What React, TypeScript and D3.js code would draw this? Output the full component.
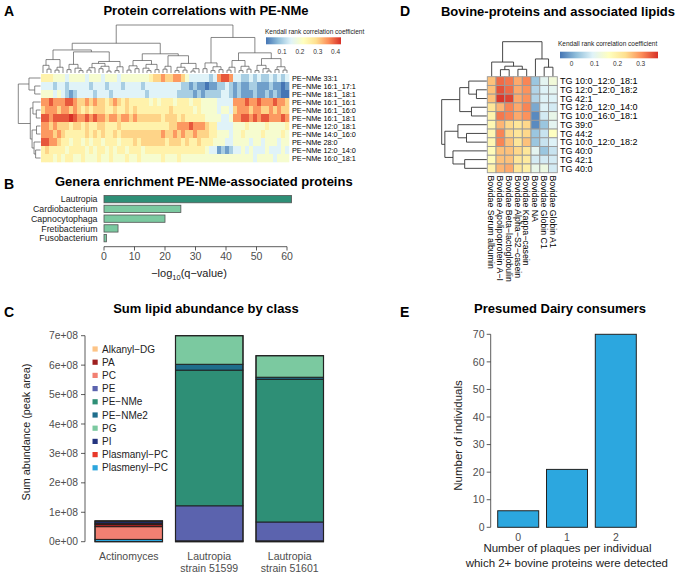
import React from 'react';
import * as d3 from 'd3';

const FONT = '"Liberation Sans", Arial, Helvetica, sans-serif';
const PAL = ['#4575B4', '#91BFDB', '#E0F3F8', '#FFFFBF', '#FEE090', '#FC8D59', '#D73027'];

// ---------- Panel A ----------
const aRowLabels = [
  'PE−NMe 33:1', 'PE−NMe 16:1_17:1', 'PE−NMe 18:1_18:1', 'PE−NMe 16:1_16:1', 'PE−NMe 16:1_16:0',
  'PE−NMe 16:1_18:1', 'PE−NMe 12:0_18:1', 'PE−NMe 14:0_16:0', 'PE−NMe 28:0', 'PE−NMe 12:0_14:0', 'PE−NMe 16:0_18:1',
];
// each char = correlation level (digit * 0.05), one char per protein column
const aRows = [
  '55544' + '4344' + '4434443444344' + '444445' + '66766776' + '4333' + '3323' + '7887' + '33223232232323',
  '33323' + '3233' + '3332333233323' + '333233' + '33333332' + '2121' + '1011' + '2232' + '12112211121101',
  '44434' + '3212' + '3333233323333' + '333323' + '33333322' + '2212' + '1222' + '2332' + '12111211212100',
  '77877' + '7887' + '6676766567656' + '555554' + '54555455' + '5455' + '4444' + '3333' + '77787787778776',
  '67776' + '7767' + '6565666556556' + '565555' + '55556555' + '5545' + '4444' + '3443' + '67776776676766',
  '88788' + '8898' + '7787877677677' + '676666' + '66566656' + '5555' + '5444' + '4334' + '77887878877787',
  '77676' + '6656' + '6565566555655' + '555555' + '55556677' + '7877' + '7655' + '3333' + '44454444544445',
  '77767' + '6555' + '5565656556566' + '666666' + '66766767' + '6676' + '6655' + '4443' + '44544445444454',
  '88776' + '5545' + '5454554555455' + '565666' + '66656665' + '6556' + '5554' + '4433' + '44443443444344',
  '56555' + '5455' + '5545455454554' + '555455' + '55555555' + '5555' + '5433' + '1212' + '33434333433343',
  '55545' + '4554' + '4544454454445' + '445444' + '44544454' + '4444' + '4444' + '4444' + '44444344443444',
];
const aLevelStep = 0.05;
const aColTree =
  '(((((x,(x,x)0.8)1.6,((x,x)0.6,x)1.2)2.8,(((x,x)0.7,(x,(x,x)0.5)1.0)1.8,((((x,x)0.6,x)1.1,((x,x)0.9,(x,x)0.4)1.4)2.0,((x,x)0.5,x)1.3)2.4)4.4)4.8,' +
  '((((x,x)0.6,(x,x)0.9)1.5,((x,(x,x)0.5)1.0,(x,x)0.7)1.8)2.6,(((x,x)0.8,x)1.4,(((x,x)0.5,(x,x)0.6)1.2,((x,x)0.4,x)0.9)2.0)3.6)4.0)6.2,' +
  '(((x,x)0.9,((x,x)0.5,(x,x)0.7)1.3)2.1,((((x,x)0.6,x)1.2,((x,x)0.5,(x,x)0.8)1.4)2.6,(((x,x)0.5,(x,(x,x)0.4)0.9)1.6,((x,x)0.7,(x,x)0.6)1.3)3.0)4.2)7.4)10';
const aRowTree = '((x,(x,x)2.6)5.2,((x,(x,x)1.9)3.4,((x,x)1.8,(x,(x,x)2.2)2.9)3.8)4.6)10';
const aLegendDomain = [0.01, 0.43];
const aLegendTicks = [0.1, 0.2, 0.3, 0.4];

// ---------- Panel B ----------
const bGenera = ['Lautropia', 'Cardiobacterium', 'Capnocytophaga', 'Fretibacterium', 'Fusobacterium'];
const bValues = [61.5, 25.2, 20.0, 4.6, 0.8];
const bTicks = [0, 10, 20, 30, 40, 50, 60];

// ---------- Panel C ----------
const cClasses = ['Alkanyl−DG', 'PA', 'PC', 'PE', 'PE−NMe', 'PE−NMe2', 'PG', 'PI', 'Plasmanyl−PC', 'Plasmenyl−PC'];
const cColors = ['#FDC486', '#9E1F1F', '#F28072', '#5B63AE', '#2E8F76', '#1F6E8C', '#7BC9A0', '#24347F', '#E8392A', '#2BA5DD'];
const cStackOrder = ['Plasmenyl−PC', 'PC', 'PA', 'Plasmanyl−PC', 'PI', 'Alkanyl−DG', 'PE', 'PE−NMe', 'PE−NMe2', 'PG'];
const cSamples = ['Actinomyces', 'Lautropia strain 51599', 'Lautropia strain 51601'];
const cSampleLines = [['Actinomyces'], ['Lautropia', 'strain 51599'], ['Lautropia', 'strain 51601']];
// values in units of 1e8 peak area, per class (cClasses order) per sample
const cActinomyces = [0.005, 0.08, 0.43, 0, 0, 0, 0, 0.07, 0.04, 0.08];
const cLaut51599 = [0, 0.03, 0, 1.19, 4.61, 0.2, 0.97, 0, 0, 0];
const cLaut51601 = [0, 0.03, 0, 0.64, 4.85, 0.07, 0.73, 0, 0, 0];
const cTicks = [0, 1, 2, 3, 4, 5, 6, 7];

// ---------- Panel D ----------
const dRowLabels = [
  'TG 10:0_12:0_18:1', 'TG 12:0_12:0_18:2', 'TG 42:1', 'TG 12:0_12:0_14:0', 'TG 10:0_16:0_18:1', 'TG 39:0',
  'TG 44:2', 'TG 10:0_12:0_18:2', 'TG 40:0', 'TG 42:1', 'TG 40:0',
];
const dColLabels = [
  'Bovidae Serum albumin', 'Bovidae Apolipoprotein A−I', 'Bovidae Beta−lactoglobulin', 'Bovidae Alpha−S2−casein',
  'Bovidae Kappa−casein', 'Bovidae NA', 'Bovidae Globin C1', 'Bovidae Globin A1',
];
const dValues = [
  [0.26, 0.33, 0.32, 0.28, 0.31, 0.03, 0.10, 0.13],
  [0.26, 0.35, 0.33, 0.28, 0.30, 0.05, 0.09, 0.10],
  [0.26, 0.37, 0.36, 0.28, 0.30, 0.05, 0.09, 0.09],
  [0.22, 0.27, 0.31, 0.28, 0.31, 0.00, 0.09, 0.08],
  [0.19, 0.32, 0.31, 0.28, 0.30, -0.03, 0.08, 0.11],
  [0.18, 0.27, 0.24, 0.22, 0.24, -0.03, 0.03, 0.10],
  [0.18, 0.31, 0.24, 0.22, 0.24, 0.03, 0.07, 0.16],
  [0.18, 0.31, 0.26, 0.22, 0.26, 0.03, 0.07, 0.09],
  [0.17, 0.26, 0.26, 0.24, 0.22, 0.10, 0.03, 0.07],
  [0.17, 0.26, 0.26, 0.22, 0.21, 0.08, 0.08, 0.08],
  [0.19, 0.27, 0.28, 0.22, 0.20, 0.11, 0.12, 0.08],
];
const dColTree = '((x,((x,x)1.9,(x,x)2.0)2.9)4.1,(x,(x,x)2.6)5.0)10';
const dRowTree = '(((x,(x,x)2.3)4.0,(x,x)3.4)6.0,((x,(x,x)4.5)6.4,(x,(x,x)4.9)7.5)9.3)10';
const dLegendDomain = [-0.05, 0.375];
const dLegendTicks = [0, 0.1, 0.2, 0.3];

// ---------- Panel E ----------
const eCats = ['0', '1', '2'];
const eCounts = [6, 21, 70];
const eTicks = [0, 10, 20, 30, 40, 50, 60, 70];

// ---------- helpers ----------
type TNode = { h: number; children?: TNode[]; idx?: number; pos?: number };
function parseTree(src: string): TNode {
  const s = src.replace(/\s+/g, '');
  let i = 0;
  let leaf = 0;
  const num = () => {
    const j = i;
    while (i < s.length && /[0-9.]/.test(s[i])) i++;
    return parseFloat(s.slice(j, i));
  };
  const node = (): TNode => {
    if (s[i] === '(') {
      i++;
      const kids: TNode[] = [node()];
      while (s[i] === ',') {
        i++;
        kids.push(node());
      }
      i++;
      return { h: num(), children: kids };
    }
    i++;
    return { h: 0, idx: leaf++ };
  };
  return node();
}
function layoutTree(n: TNode, leafPos: (i: number) => number): number {
  if (!n.children) {
    n.pos = leafPos(n.idx as number);
    return n.pos;
  }
  const ps = n.children.map((c) => layoutTree(c, leafPos));
  n.pos = (ps[0] + ps[ps.length - 1]) / 2;
  return n.pos;
}
function treePaths(n: TNode, hs: (h: number) => number, vertical: boolean, out: string[] = []): string[] {
  if (!n.children) return out;
  const [a, b] = [n.children[0], n.children[n.children.length - 1]];
  const pa = a.pos as number, pb = b.pos as number;
  if (vertical) {
    out.push(`M${pa},${hs(a.h)}V${hs(n.h)}H${pb}V${hs(b.h)}`);
  } else {
    out.push(`M${hs(a.h)},${pa}H${hs(n.h)}V${pb}H${hs(b.h)}`);
  }
  n.children.forEach((c) => treePaths(c, hs, vertical, out));
  return out;
}
function heatScale(domain: number[]) {
  const stops = PAL.map((_, i) => domain[0] + (i * (domain[1] - domain[0])) / (PAL.length - 1));
  return d3.scaleLinear<string>().domain(stops).range(PAL).interpolate(d3.interpolateRgb).clamp(true);
}

export default function App() {
  // ---- A geometry
  const aX = d3.scaleBand<number>().domain(d3.range(aRows[0].length)).range([41, 289]);
  const aY = d3.scaleBand<number>().domain(d3.range(aRows.length)).range([74, 162]);
  const aColor = heatScale(aLegendDomain);
  const aCT = parseTree(aColTree);
  layoutTree(aCT, (i) => (aX(i) as number) + aX.bandwidth() / 2);
  const aCH = d3.scaleLinear().domain([0, 10]).range([73, 25]);
  const aColPaths = treePaths(aCT, aCH, true);
  const aRT = parseTree(aRowTree);
  layoutTree(aRT, (i) => (aY(i) as number) + aY.bandwidth() / 2);
  const aRH = d3.scaleLinear().domain([0, 10]).range([40.5, 18.3]);
  const aRowPaths = treePaths(aRT, aRH, false);
  const aLeg = d3.scaleLinear().domain(aLegendDomain).range([266, 341]);

  // ---- B
  const bX = d3.scaleLinear().domain([0, 60]).range([104, 287]);
  const bY = d3.scaleBand<string>().domain(bGenera).range([194.3, 243]).paddingInner(0.25).paddingOuter(0.12);

  // ---- C
  const cY = d3.scaleLinear().domain([0, 7]).range([541.7, 335.7]);
  const cX = d3.scaleBand<string>().domain(cSamples).range([82, 336.5]).padding(0.1615);
  const cTable = [cActinomyces, cLaut51599, cLaut51601].map((vals, si) => {
    const row: Record<string, any> = { sample: cSamples[si] };
    cClasses.forEach((k, ci) => (row[k] = vals[ci]));
    return row;
  });
  const cStack = d3.stack<any>().keys(cStackOrder)(cTable);
  const cColorOf = (k: string) => cColors[cClasses.indexOf(k)];

  // ---- D
  const dX = d3.scaleBand<number>().domain(d3.range(dColLabels.length)).range([487.3, 557.3]);
  const dY = d3.scaleBand<number>().domain(d3.range(dRowLabels.length)).range([76.7, 172.7]);
  const dColor = heatScale(dLegendDomain);
  const dCT = parseTree(dColTree);
  layoutTree(dCT, (i) => (dX(i) as number) + dX.bandwidth() / 2);
  const dCH = d3.scaleLinear().domain([0, 10]).range([76.2, 41.7]);
  const dColPaths = treePaths(dCT, dCH, true);
  const dRT = parseTree(dRowTree);
  layoutTree(dRT, (i) => (dY(i) as number) + dY.bandwidth() / 2);
  const dRH = d3.scaleLinear().domain([0, 10]).range([486.8, 441.7]);
  const dRowPaths = treePaths(dRT, dRH, false);
  const dLeg = d3.scaleLinear().domain(dLegendDomain).range([560, 658]);

  // ---- E
  const eY = d3.scaleLinear().domain([0, 70]).range([527.3, 334.3]);
  const eX = d3.scaleBand<string>().domain(eCats).range([489.9, 644.1]).padding(0.16);

  const axisGray = '#333';
  const tickText = '#4D4D4D';

  return (
    <svg width={681} height={575} style={{ position: 'absolute', left: 0, top: 0, background: '#fff' }} fontFamily={FONT}>
      <defs>
        <linearGradient id="gradA" x1="0" x2="1" y1="0" y2="0">
          {PAL.map((c, i) => (
            <stop key={i} offset={i / (PAL.length - 1)} stopColor={c} />
          ))}
        </linearGradient>
      </defs>
      <rect x={0} y={0} width={681} height={575} fill="#fff" />

      {/* Panel letters */}
      {[['A', 4, 15.5], ['B', 4, 189], ['C', 4, 316.5], ['D', 400, 15.5], ['E', 400, 316.5]].map(([t, x, y]) => (
        <text key={t as string} x={x as number} y={y as number} fontSize={14} fontWeight="bold">
          {t}
        </text>
      ))}

      {/* ===== Panel A ===== */}
      <text x={206} y={15} fontSize={13} fontWeight="bold" textAnchor="middle">
        Protein correlations with PE-NMe
      </text>
      <g>
        {aRows.map((row, r) =>
          row.split('').map((ch, c) => (
            <rect
              key={`a${r}-${c}`}
              x={aX(c) as number}
              y={aY(r) as number}
              width={aX.bandwidth() + 0.3}
              height={aY.bandwidth() + 0.3}
              fill={aColor(+ch * aLevelStep)}
            />
          ))
        )}
      </g>
      <g fill="none" stroke="#555" strokeWidth={0.7}>
        {aColPaths.map((d, i) => (
          <path key={i} d={d} />
        ))}
        {aRowPaths.map((d, i) => (
          <path key={`r${i}`} d={d} />
        ))}
      </g>
      {aRowLabels.map((t, i) => (
        <text key={t} x={292} y={(aY(i) as number) + aY.bandwidth() / 2 + 2.6} fontSize={7.3}>
          {t}
        </text>
      ))}
      <text x={265} y={33.5} fontSize={6.5} fill="#222">
        Kendall rank correlation coefficient
      </text>
      <rect x={aLeg.range()[0]} y={37.3} width={aLeg.range()[1] - aLeg.range()[0]} height={7} fill="url(#gradA)" />
      {aLegendTicks.map((t) => (
        <text key={t} x={aLeg(t)} y={54} fontSize={6.5} textAnchor="middle" fill="#333">
          {t}
        </text>
      ))}

      {/* ===== Panel B ===== */}
      <text x={55} y={186} fontSize={13} fontWeight="bold">
        Genera enrichment PE-NMe-associated proteins
      </text>
      {bGenera.map((g, i) => (
        <g key={g}>
          <rect
            x={bX(0)}
            y={bY(g) as number}
            width={bX(bValues[i]) - bX(0)}
            height={bY.bandwidth()}
            fill={i === 0 ? '#2E8F76' : '#7BC9A0'}
            stroke="#555"
            strokeWidth={0.8}
          />
          <text x={97.5} y={(bY(g) as number) + bY.bandwidth() / 2 + 3.2} fontSize={8.8} textAnchor="end" fill="#222">
            {g}
          </text>
        </g>
      ))}
      <line x1={bX(0)} x2={bX(60)} y1={246.7} y2={246.7} stroke={axisGray} strokeWidth={0.8} />
      {bTicks.map((t) => (
        <g key={t}>
          <line x1={bX(t)} x2={bX(t)} y1={246.7} y2={250.5} stroke={axisGray} strokeWidth={0.8} />
          <text x={bX(t)} y={259.8} fontSize={10.5} textAnchor="middle" fill={tickText}>
            {t}
          </text>
        </g>
      ))}
      <text x={189} y={277} fontSize={11} textAnchor="middle" fill="#222">
        −log
        <tspan fontSize={7.5} dy={2.5}>
          10
        </tspan>
        <tspan dy={-2.5}>(q−value)</tspan>
      </text>

      {/* ===== Panel C ===== */}
      <text x={206} y={313} fontSize={13} fontWeight="bold" textAnchor="middle">
        Sum lipid abundance by class
      </text>
      <line x1={85} x2={85} y1={cY(0)} y2={cY(7)} stroke={axisGray} strokeWidth={0.8} />
      {cTicks.map((t) => (
        <g key={t}>
          <line x1={81} x2={85} y1={cY(t)} y2={cY(t)} stroke={axisGray} strokeWidth={0.8} />
          <text x={78} y={cY(t) + 3.6} fontSize={10.3} textAnchor="end" fill={tickText}>
            {t === 0 ? '0e+00' : `${t}e+08`}
          </text>
        </g>
      ))}
      <text transform={`translate(30,432) rotate(-90)`} fontSize={10.8} textAnchor="middle" fill="#222">
        Sum abundance (peak area)
      </text>
      {cStack.map((layer) => (
        <g key={layer.key} fill={cColorOf(layer.key)}>
          {layer.map((seg, si) =>
            seg[1] - seg[0] > 0 ? (
              <rect
                key={si}
                x={cX(cSamples[si]) as number}
                y={cY(seg[1])}
                width={cX.bandwidth()}
                height={cY(seg[0]) - cY(seg[1])}
                stroke="#1a1a1a"
                strokeWidth={0.9}
              />
            ) : null
          )}
        </g>
      ))}
      {cSamples.map((s, si) => (
        <rect
          key={`o${si}`}
          x={cX(s) as number}
          y={cY(d3.sum(cStack, (l) => l[si][1] - l[si][0]))}
          width={cX.bandwidth()}
          height={cY(0) - cY(d3.sum(cStack, (l) => l[si][1] - l[si][0]))}
          fill="none"
          stroke="#222"
          strokeWidth={1.2}
        />
      ))}
      {cSampleLines.map((lines, si) =>
        lines.map((ln, li) => (
          <text
            key={`${si}-${li}`}
            x={(cX(cSamples[si]) as number) + cX.bandwidth() / 2}
            y={560 + li * 11.8}
            fontSize={10.5}
            textAnchor="middle"
            fill={tickText}
          >
            {ln}
          </text>
        ))
      )}
      {cClasses.map((k, i) => (
        <g key={k}>
          <rect x={92.5} y={349 + i * 13.2 - 2.6} width={5.2} height={5.2} fill={cColors[i]} />
          <text x={102} y={349 + i * 13.2 + 3.5} fontSize={10} fill="#222">
            {k}
          </text>
        </g>
      ))}

      {/* ===== Panel D ===== */}
      <text x={558} y={15.5} fontSize={13} fontWeight="bold" textAnchor="middle">
        Bovine-proteins and associated lipids
      </text>
      {dValues.map((row, r) =>
        row.map((v, c) => (
          <rect
            key={`d${r}-${c}`}
            x={dX(c) as number}
            y={dY(r) as number}
            width={dX.bandwidth()}
            height={dY.bandwidth()}
            fill={dColor(v)}
            stroke="#9a9a9a"
            strokeWidth={0.9}
          />
        ))
      )}
      <g fill="none" stroke="#333" strokeWidth={0.9}>
        {dColPaths.map((d, i) => (
          <path key={i} d={d} />
        ))}
        {dRowPaths.map((d, i) => (
          <path key={`r${i}`} d={d} />
        ))}
      </g>
      {dRowLabels.map((t, i) => (
        <text key={i} x={560} y={(dY(i) as number) + dY.bandwidth() / 2 + 3.2} fontSize={9}>
          {t}
        </text>
      ))}
      {dColLabels.map((t, i) => (
        <text
          key={i}
          transform={`translate(${(dX(i) as number) + dX.bandwidth() / 2 - 3.2},175.5) rotate(90)`}
          fontSize={8.8}
        >
          {t}
        </text>
      ))}
      <text x={558} y={45.5} fontSize={6.5} fill="#222">
        Kendall rank correlation coefficient
      </text>
      <rect x={dLeg.range()[0]} y={51.7} width={dLeg.range()[1] - dLeg.range()[0]} height={6.6} fill="url(#gradA)" />
      {dLegendTicks.map((t) => (
        <text key={t} x={dLeg(t)} y={66} fontSize={6.5} textAnchor="middle" fill="#333">
          {t}
        </text>
      ))}

      {/* ===== Panel E ===== */}
      <text x={560} y={313} fontSize={13} fontWeight="bold" textAnchor="middle">
        Presumed Dairy consumers
      </text>
      <line x1={490.7} x2={490.7} y1={eY(0)} y2={eY(70)} stroke={axisGray} strokeWidth={0.8} />
      {eTicks.map((t) => (
        <g key={t}>
          <line x1={486.7} x2={490.7} y1={eY(t)} y2={eY(t)} stroke={axisGray} strokeWidth={0.8} />
          <text x={484.5} y={eY(t) + 3.7} fontSize={10.5} textAnchor="end" fill={tickText}>
            {t}
          </text>
        </g>
      ))}
      {eCats.map((c, i) => (
        <g key={c}>
          <rect
            x={eX(c) as number}
            y={eY(eCounts[i])}
            width={eX.bandwidth()}
            height={eY(0) - eY(eCounts[i])}
            fill="#2CA7DF"
            stroke="#222"
            strokeWidth={1}
          />
          <text x={(eX(c) as number) + eX.bandwidth() / 2} y={541} fontSize={10.5} textAnchor="middle" fill={tickText}>
            {c}
          </text>
        </g>
      ))}
      <text x={567.5} y={552} fontSize={11.5} textAnchor="middle" fill="#222">
        Number of plaques per individual
      </text>
      <text x={566.8} y={567} fontSize={11.5} textAnchor="middle" fill="#222">
        which 2+ bovine proteins were detected
      </text>
      <text transform={`translate(462,435.5) rotate(-90)`} fontSize={11.5} textAnchor="middle" fill="#222">
        Number of individuals
      </text>
    </svg>
  );
}
